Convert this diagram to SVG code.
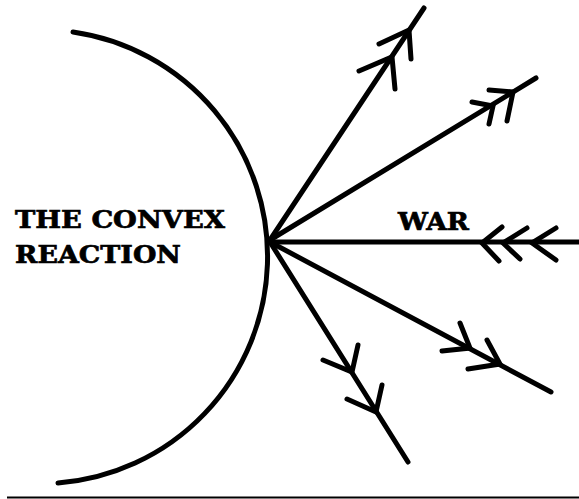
<svg xmlns="http://www.w3.org/2000/svg" width="579" height="499" viewBox="0 0 579 499">
<style>
.ray{stroke:#000;stroke-width:5;fill:none;stroke-linecap:round;stroke-linejoin:round}
.chev{stroke:#000;stroke-width:5;fill:none;stroke-linecap:round;stroke-linejoin:miter}
.lbl{font-family:"DejaVu Serif","Liberation Serif",serif;font-weight:bold;fill:#000;stroke:#000;stroke-width:0.7}
</style>
<rect width="579" height="499" fill="#fff"/>
<g id="convex">
<path d="M73,32 A227,227 0 0 1 58,483" class="ray" stroke-width="4.5" stroke-linecap="butt"/>
</g>
<g id="label-convex">
<text class="lbl" x="15" y="228" font-size="25" textLength="210" lengthAdjust="spacingAndGlyphs">THE CONVEX</text>
<text class="lbl" x="15" y="263" font-size="25" textLength="166" lengthAdjust="spacingAndGlyphs">REACTION</text>
</g>
<g id="label-war">
<text class="lbl" x="398" y="230" font-size="24" textLength="71" lengthAdjust="spacingAndGlyphs">WAR</text>
</g>
<g id="connectors">
<line class="ray" x1="270" y1="240" x2="424" y2="8"/>
<polyline class="chev" points="359,71 392,57 395,89"/>
<polyline class="chev" points="379,44 409,30 411,59"/>
<line class="ray" x1="270" y1="240" x2="536" y2="78"/>
<polyline class="chev" points="472,102 493,106 489,124"/>
<polyline class="chev" points="489,90 513,92 507,121"/>
<line class="ray" x1="270" y1="242" x2="579" y2="242"/>
<polyline class="chev" points="502,227 482,243 499,261"/>
<polyline class="chev" points="527,228 503,243 520,259"/>
<polyline class="chev" points="556,228 532,243 556,260"/>
<line class="ray" x1="270" y1="242" x2="551" y2="392"/>
<polyline class="chev" points="460,323 470,348 442,351"/>
<polyline class="chev" points="487,340 500,364 468,369"/>
<line class="ray" x1="270" y1="242" x2="408" y2="462"/>
<polyline class="chev" points="323,360 352,372 358,345"/>
<polyline class="chev" points="347,399 376,412 382,385"/>
</g>
<line x1="7" y1="497.5" x2="579" y2="497.5" stroke="#000" stroke-width="2"/>
</svg>
